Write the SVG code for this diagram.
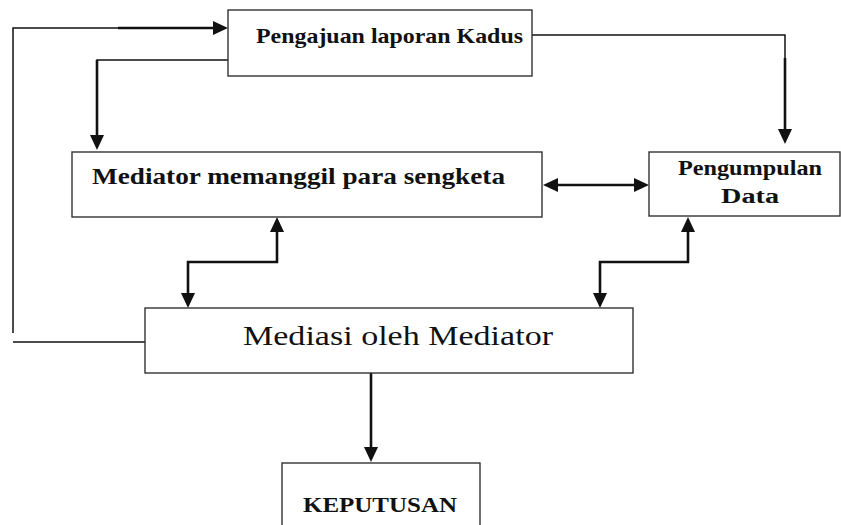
<svg xmlns="http://www.w3.org/2000/svg" width="841" height="525" viewBox="0 0 841 525">
<style>
.box{fill:#fff;stroke:#333;stroke-width:1.4}
.t{font-family:"Liberation Serif","Times New Roman",serif;fill:#111}
.b{font-weight:bold}
.thin{fill:none;stroke:#111;stroke-width:1.5}
.thick{fill:none;stroke:#111;stroke-width:2.6}
.ah{fill:#111}
</style>
<rect width="841" height="525" fill="#fff"/>
<g id="connectors">
  <polyline class="thin" points="145,342 13,342"/>
  <polyline class="thin" points="13,333 13,28 120,28"/>
  <polyline class="thick" points="118,28 214,28"/>
  <polygon class="ah" points="228,28 213,21 213,35"/>
  <polyline class="thin" points="228,60 97,60 97,62"/>
  <polyline class="thick" points="97,60 97,136"/>
  <polygon class="ah" points="97,150 90,135 104,135"/>
  <polyline class="thin" points="532,35 785,35 785,60"/>
  <polyline class="thick" points="785,58 785,130"/>
  <polygon class="ah" points="785,144 778,129 792,129"/>
  <polyline class="thick" points="556,185 636,185"/>
  <polygon class="ah" points="543,185 558,178 558,192"/>
  <polygon class="ah" points="649,185 634,178 634,192"/>
  <polyline class="thick" points="277,230 277,262 188,262 188,294"/>
  <polygon class="ah" points="277,217 270,232 284,232"/>
  <polygon class="ah" points="188,308 181,293 195,293"/>
  <polyline class="thick" points="688,231 688,262 600,262 600,294"/>
  <polygon class="ah" points="688,217 681,232 695,232"/>
  <polygon class="ah" points="600,308 593,293 607,293"/>
  <polyline class="thick" points="371,373 371,448"/>
  <polygon class="ah" points="371,462 364,447 378,447"/>
</g>
<g id="pengajuan">
  <rect class="box" x="228" y="10" width="304" height="66"/>
  <text class="t b" x="256" y="43" font-size="22" textLength="267" lengthAdjust="spacingAndGlyphs">Pengajuan laporan Kadus</text>
</g>
<g id="mediator">
  <rect class="box" x="72" y="152" width="470" height="65"/>
  <text class="t b" x="92" y="184" font-size="24" textLength="413" lengthAdjust="spacingAndGlyphs">Mediator memanggil para sengketa</text>
</g>
<g id="pengumpulan">
  <rect class="box" x="649" y="152" width="191" height="64"/>
  <text class="t b" x="750" y="175" font-size="20" text-anchor="middle" textLength="144" lengthAdjust="spacingAndGlyphs">Pengumpulan</text>
  <text class="t b" x="750" y="203" font-size="20" text-anchor="middle" textLength="58" lengthAdjust="spacingAndGlyphs">Data</text>
</g>
<g id="mediasi">
  <rect class="box" x="145" y="308" width="488" height="65"/>
  <text class="t" x="243" y="345" font-size="28" textLength="310" lengthAdjust="spacingAndGlyphs">Mediasi oleh Mediator</text>
</g>
<g id="keputusan">
  <rect class="box" x="282" y="463" width="198" height="70"/>
  <text class="t b" x="303" y="512" font-size="21" textLength="154" lengthAdjust="spacingAndGlyphs">KEPUTUSAN</text>
</g>
</svg>
